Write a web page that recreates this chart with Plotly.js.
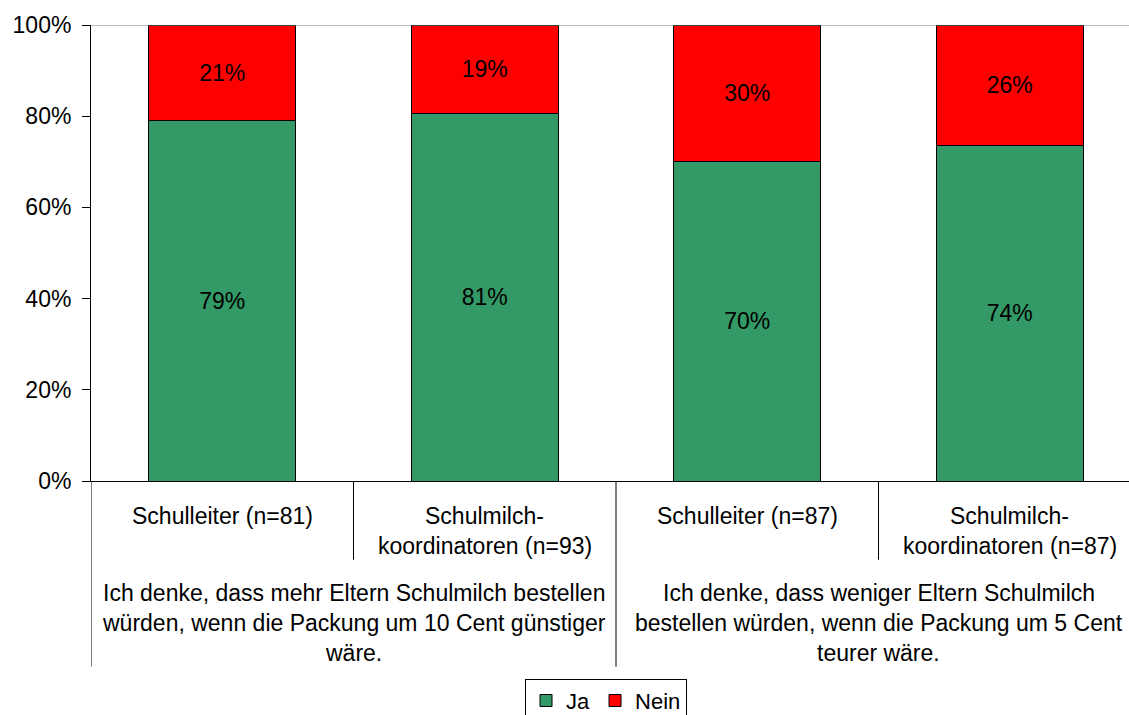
<!DOCTYPE html>
<html>
<head>
<meta charset="utf-8">
<script src="https://cdn.plot.ly/plotly-3.0.1.min.js"></script>
<style>
html,body{margin:0;padding:0;overflow:hidden;background:#fff;}
#chart{width:1145px;height:715px;}
</style>
</head>
<body>
<div id="chart"></div>
<script>
// ---- data ----
var categories = ["Schulleiter (n=81)", "Schulmilch-koordinatoren (n=93)", "Schulleiter (n=87)", "Schulmilch-koordinatoren (n=87)"];
var innerLabelLines = [
  ["Schulleiter (n=81)"],
  ["Schulmilch-", "koordinatoren (n=93)"],
  ["Schulleiter (n=87)"],
  ["Schulmilch-", "koordinatoren (n=87)"]
];
var groupLabelLines = [
  ["Ich denke, dass mehr Eltern Schulmilch bestellen", "würden, wenn die Packung um 10 Cent günstiger", "wäre."],
  ["Ich denke, dass weniger Eltern Schulmilch", "bestellen würden, wenn die Packung um 5 Cent", "teurer wäre."]
];
var groupMembers = [[0, 1], [2, 3]];
var ja = [79, 80.6, 70, 73.6];
var nein = [21, 19.4, 30, 26.4];
var seriesNames = ["Ja", "Nein"];
var yTickVals = [0, 20, 40, 60, 80, 100];

// ---- layout helpers ----
var topPx = 25.3, zeroPx = 481.3, plotH = zeroPx - topPx;
function py(px) { return (zeroPx - px) / plotH; }
var FONT = "Liberation Sans, Arial, sans-serif";
var FS = 23;

var traces = [
  {type: "bar", name: seriesNames[0], x: categories, y: ja,
   marker: {color: "#339966", line: {color: "#000", width: 1}},
   width: 0.56, text: ja.map(function(v){return Math.round(v) + "%";}),
   textposition: "inside", insidetextanchor: "middle", textangle: 0,
   textfont: {family: FONT, size: FS, color: "#000"}, hoverinfo: "skip"},
  {type: "bar", name: seriesNames[1], x: categories, y: nein,
   marker: {color: "#FF0000", line: {color: "#000", width: 1}},
   width: 0.56, text: nein.map(function(v){return Math.round(v) + "%";}),
   textposition: "inside", insidetextanchor: "middle", textangle: 0,
   textfont: {family: FONT, size: FS, color: "#000"}, hoverinfo: "skip"}
];

var annotations = [];
var innerY = [516.7, 546.7];
innerLabelLines.forEach(function(lines, i) {
  lines.forEach(function(t, j) {
    annotations.push({xref: "x", yref: "paper", x: categories[i], y: py(innerY[j]),
      text: t, showarrow: false, xanchor: "center", yanchor: "middle",
      font: {family: FONT, size: FS, color: "#000"}});
  });
});
var outerY = [593, 623, 653];
groupLabelLines.forEach(function(lines, g) {
  var cx = (groupMembers[g][0] + groupMembers[g][1]) / 2;
  lines.forEach(function(t, j) {
    annotations.push({xref: "x", yref: "paper", x: cx, y: py(outerY[j]),
      text: t, showarrow: false, xanchor: "center", yanchor: "middle",
      font: {family: FONT, size: FS, color: "#000"}});
  });
});

var shapes = [
  {type: "line", xref: "paper", yref: "y", x0: 0, x1: 1, y0: 100, y1: 100, line: {color: "#808080", width: 1}},
  {type: "line", xref: "x", yref: "paper", x0: 0.5, x1: 0.5, y0: 0, y1: py(560), line: {color: "#000", width: 1}},
  {type: "line", xref: "x", yref: "paper", x0: 2.5, x1: 2.5, y0: 0, y1: py(560), line: {color: "#000", width: 1}},
  {type: "line", xref: "x", yref: "paper", x0: -0.5, x1: -0.5, y0: 0, y1: py(667), line: {color: "#000", width: 1}},
  {type: "line", xref: "x", yref: "paper", x0: 1.5, x1: 1.5, y0: 0, y1: py(667), line: {color: "#000", width: 1}},
  {type: "line", xref: "x", yref: "paper", x0: 3.5, x1: 3.5, y0: 0, y1: py(667), line: {color: "#000", width: 1}}
];

var layout = {
  width: 1145, height: 715,
  margin: {l: 91, r: 4, t: topPx, b: 715 - zeroPx, pad: 0, autoexpand: false},
  paper_bgcolor: "#fff", plot_bgcolor: "#fff",
  barmode: "stack",
  showlegend: true,
  font: {family: FONT, size: FS, color: "#000"},
  xaxis: {type: "category", range: [-0.5, 3.5], showticklabels: false, ticks: "",
    showgrid: false, zeroline: false, showline: true, linecolor: "#000", linewidth: 1, fixedrange: true},
  yaxis: {range: [0, 100], tickvals: yTickVals, ticktext: yTickVals.map(function(v){return v + "%";}),
    ticks: "outside", ticklen: 8, tickcolor: "#000", showgrid: false, zeroline: false,
    ticklabelstandoff: 6,
    showline: true, linecolor: "#000", linewidth: 1, tickfont: {family: FONT, size: FS, color: "#000"},
    fixedrange: true},
  legend: {orientation: "h", x: 0.4905, xanchor: "center", y: py(679), yanchor: "top",
    bordercolor: "#000", borderwidth: 1, traceorder: "normal",
    font: {family: FONT, size: 22, color: "#000"}, itemwidth: 30},
  annotations: annotations,
  shapes: shapes
};

Plotly.newPlot("chart", traces, layout, {displayModeBar: false, staticPlot: true});
</script>
</body>
</html>
